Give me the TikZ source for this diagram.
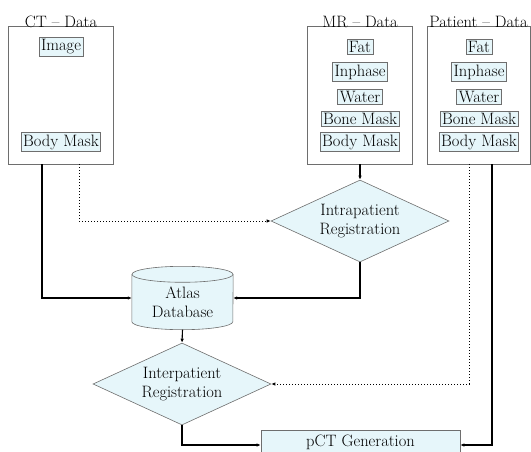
\documentclass[tikz,border=0pt]{standalone}
\usetikzlibrary{shapes.geometric,arrows.meta,calc}
\definecolor{fillc}{RGB}{230,246,250}
\definecolor{edgec}{RGB}{110,110,110}
\begin{document}
\begin{tikzpicture}[x=1pt,y=-1pt,
  every node/.style={font=\fontsize{16.5}{19}\selectfont},
  group/.style={draw=edgec, line width=0.8pt, minimum width=105pt, minimum height=138pt, inner sep=0pt},
  item/.style={draw=edgec, fill=fillc, line width=0.8pt, inner sep=2pt},
  title/.style={inner sep=1pt, anchor=south},
  decision/.style={diamond, draw=edgec, fill=fillc, line width=0.6pt, aspect=2.17, minimum width=178pt, minimum height=82pt, inner sep=0pt, align=center},
  proc/.style={draw=edgec, fill=fillc, line width=0.6pt, minimum width=199pt, minimum height=28pt, inner sep=0pt},
  solidarr/.style={line width=1.1pt, -{Latex[length=4pt,width=3.5pt]}},
  dotarr/.style={line width=1pt, dotted, -{Latex[length=4pt,width=3.5pt]}}
]
\useasboundingbox (0,0) rectangle (531,452);

% group boxes
\node[group] (ctbox) at (61,95) {};
\node[group] (mrbox) at (360,95) {};
\node[group, minimum width=103pt] (patbox) at (478.5,95) {};
\node[title] (cttitle) at ([yshift=-3pt]ctbox.north) {CT -- Data};
\node[title] (mrtitle) at ([yshift=-3pt]mrbox.north) {MR -- Data};
\node[title] (pattitle) at ([yshift=-3pt]patbox.north) {Patient -- Data};

% CT items
\node[item] (ctimg) at (61,47) {Image};
\node[item] (ctbody) at (61,142) {Body Mask};

% MR items
\node[item] (mrfat) at (360,47) {Fat};
\node[item] (mrin) at (360,72) {Inphase};
\node[item] (mrwat) at (360,97) {Water};
\node[item] (mrbone) at (360,119) {Bone Mask};
\node[item] (mrbody) at (360,142) {Body Mask};

% Patient items
\node[item] (pfat) at (479,47) {Fat};
\node[item] (pin) at (479,72) {Inphase};
\node[item] (pwat) at (479,97) {Water};
\node[item] (pbone) at (479,119) {Bone Mask};
\node[item] (pbody) at (479,142) {Body Mask};

% decisions
\node[decision] (intra) at (360,221) {Intrapatient\\Registration};
\node[decision] (inter) at (182,384) {Interpatient\\Registration};

% atlas cylinder
\node[minimum width=101pt, minimum height=63pt, inner sep=0pt] (atlas) at (182.5,298) {};
\fill[fillc] ([yshift=-8pt]atlas.north west) -- ([yshift=8pt]atlas.south west)
  arc[start angle=180, end angle=360, x radius=50.5pt, y radius=8pt]
  -- ([yshift=-8pt]atlas.north east)
  arc[start angle=0, end angle=180, x radius=50.5pt, y radius=8pt] -- cycle;
\draw[edgec, line width=0.6pt] ([yshift=-8pt]atlas.north west) -- ([yshift=8pt]atlas.south west)
  arc[start angle=180, end angle=360, x radius=50.5pt, y radius=8pt]
  -- ([yshift=-8pt]atlas.north east);
\draw[edgec, line width=0.6pt] ($(atlas.north)+(0,8)$) ellipse[x radius=50.5pt, y radius=8pt];
\node[align=center, inner sep=0pt] (atlastext) at (182.5,302) {Atlas\\Database};

% pCT
\node[proc] (pct) at (360.5,444) {};
\node[inner sep=0pt] (pcttext) at (360.5,442) {pCT Generation};

% connectors
\draw[solidarr] ([xshift=-19pt]ctbox.south) |- (atlas.west);
\draw[dotarr] ([xshift=18pt]ctbox.south) |- (intra.west);
\draw[solidarr] (mrbox.south) -- (intra.north);
\draw[solidarr] (intra.south) |- (atlas.east);
\draw[solidarr] (atlas.south) -- (inter.north);
\draw[dotarr] ([xshift=-9.5pt]patbox.south) |- (inter.east);
\draw[solidarr] ([xshift=13.5pt]patbox.south) |- ([yshift=-1pt]pct.east);
\draw[solidarr] (inter.south) |- ([yshift=-1pt]pct.west);
\end{tikzpicture}
\end{document}
